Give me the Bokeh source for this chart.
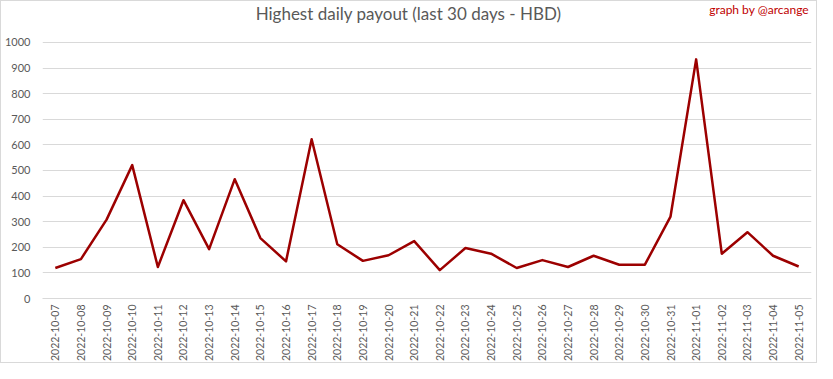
import math
from bokeh.plotting import figure
from bokeh.models import FactorRange, Range1d, Label, FixedTicker
from bokeh.embed import file_html
from bokeh.resources import INLINE

dates = ["2022-10-07", "2022-10-08", "2022-10-09", "2022-10-10", "2022-10-11",
         "2022-10-12", "2022-10-13", "2022-10-14", "2022-10-15", "2022-10-16",
         "2022-10-17", "2022-10-18", "2022-10-19", "2022-10-20", "2022-10-21",
         "2022-10-22", "2022-10-23", "2022-10-24", "2022-10-25", "2022-10-26",
         "2022-10-27", "2022-10-28", "2022-10-29", "2022-10-30", "2022-10-31",
         "2022-11-01", "2022-11-02", "2022-11-03", "2022-11-04", "2022-11-05"]
payout = [119, 154, 308, 521, 123, 384, 193, 466, 236, 145,
          622, 212, 147, 169, 224, 111, 197, 175, 119, 150,
          123, 167, 132, 132, 320, 934, 175, 259, 167, 125]
yticks = [0, 100, 200, 300, 400, 500, 600, 700, 800, 900, 1000]

FONT = "Lato"
GRAY = "#595959"

# the plot frame extends above the 1000 gridline to hold the title texts
p = figure(width=817, height=363,
           x_range=FactorRange(*dates, range_padding=0),
           y_range=Range1d(0, 1160),
           output_backend="svg", toolbar_location=None,
           title_location=None,
           min_border_left=37, min_border_right=7,
           min_border_top=0, min_border_bottom=65)

p.line(dates, payout, line_color="#9c0000", line_width=2.5, line_join="round")

p.outline_line_color = None
p.xgrid.grid_line_color = None
p.ygrid.grid_line_color = "#d9d9d9"
p.ygrid.grid_line_width = 1

p.yaxis.ticker = FixedTicker(ticks=yticks)
p.yaxis.axis_line_color = None
p.yaxis.major_tick_line_color = None
p.yaxis.minor_tick_line_color = None
p.yaxis.major_tick_out = 0
p.yaxis.major_tick_in = 0
p.yaxis.minor_tick_out = 0
p.yaxis.major_label_text_font = FONT
p.yaxis.major_label_text_font_size = "11px"
p.yaxis.major_label_text_color = GRAY
p.yaxis.major_label_standoff = 12

p.xaxis.axis_line_color = "#d9d9d9"
p.xaxis.major_tick_line_color = None
p.xaxis.minor_tick_line_color = None
p.xaxis.major_tick_out = 0
p.xaxis.major_tick_in = 0
p.xaxis.major_label_orientation = math.pi / 2
p.xaxis.major_label_text_font = FONT
p.xaxis.major_label_text_font_size = "10.5px"
p.xaxis.major_label_text_color = GRAY
p.xaxis.major_label_standoff = 6

title = Label(x=14.28, y=1113, x_units="data", y_units="data",
              text="Highest daily payout (last 30 days - HBD)",
              text_font=FONT, text_font_size="17px", text_color=GRAY,
              text_align="center", text_baseline="middle")
credit = Label(x=29.9, y=1130, x_units="data", y_units="data",
               text="graph by @arcange",
               text_font=FONT, text_font_size="12px", text_color="#c00000",
               text_align="right", text_baseline="middle")
p.add_layout(title)
p.add_layout(credit)

p.styles = {"border": "1px solid #d9d9d9"}

open("out.html", "w").write(file_html(p, INLINE))
